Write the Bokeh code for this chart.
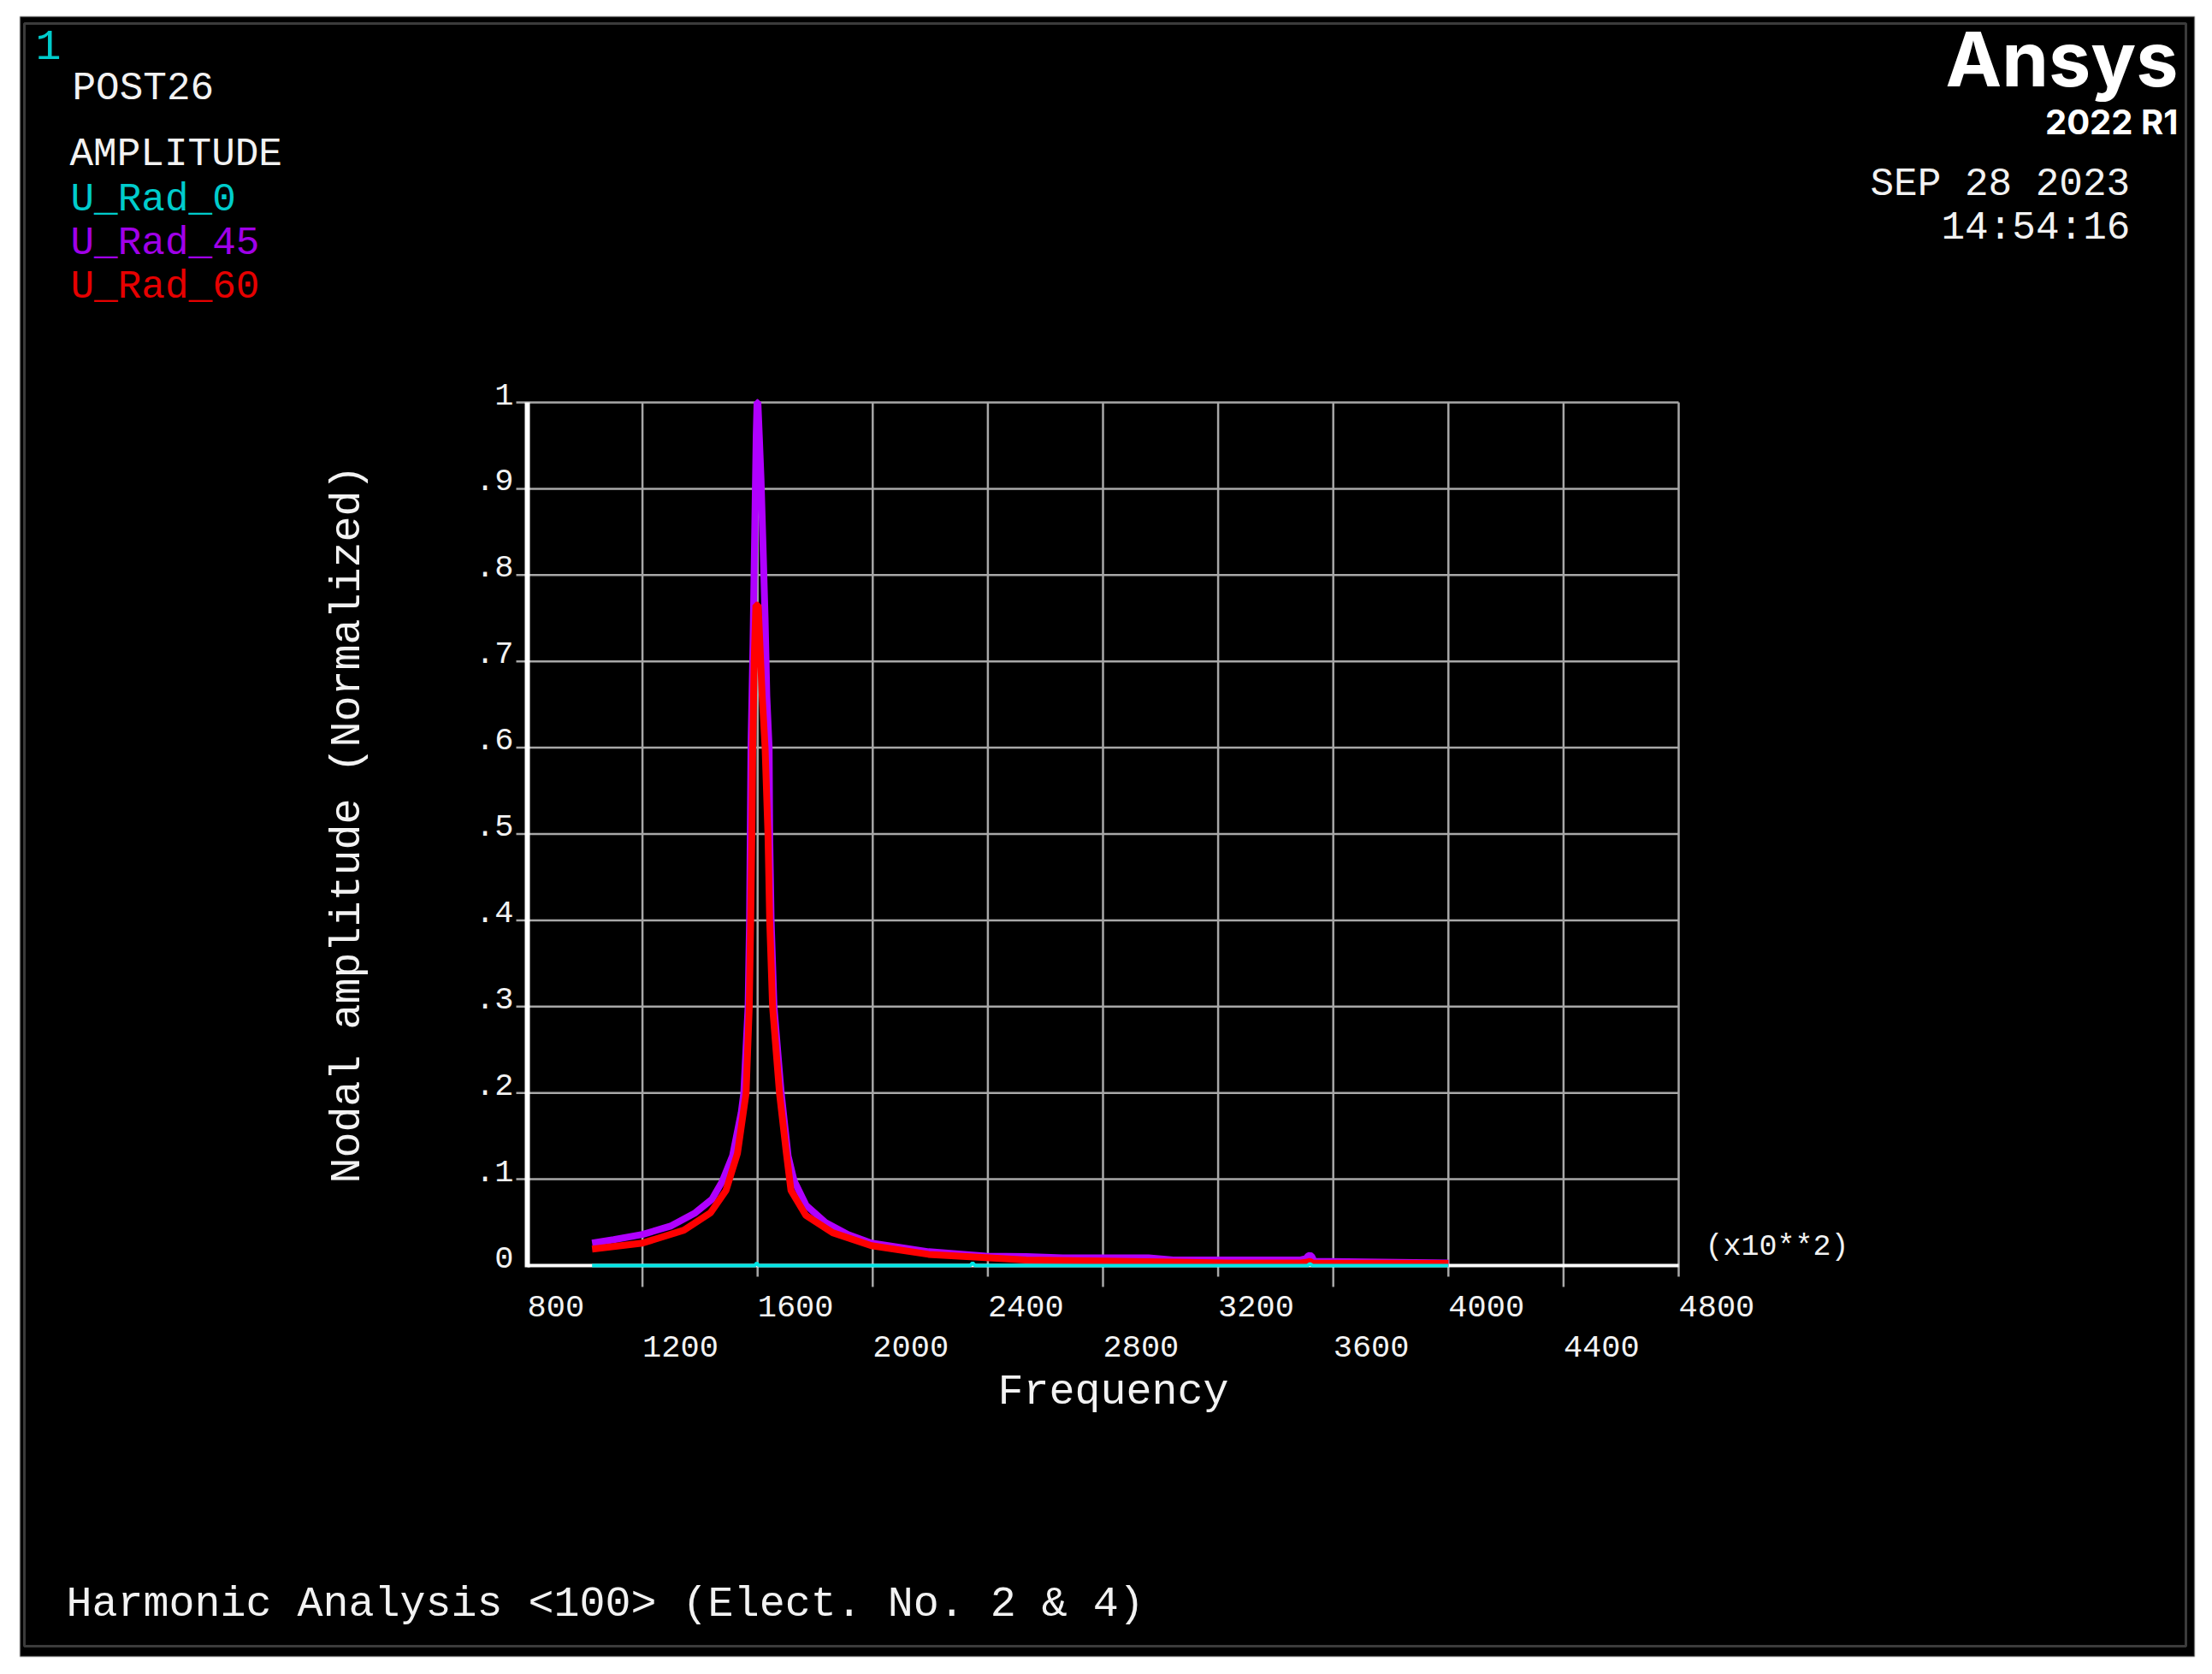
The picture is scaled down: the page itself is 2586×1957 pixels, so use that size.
import math
from bokeh.plotting import figure
from bokeh.models import Range1d, Label, BoxAnnotation
from bokeh.embed import file_html
from bokeh.resources import INLINE

# ------------------------------------------------------------------ data
x_ticks_row1 = [800, 1600, 2400, 3200, 4000, 4800]
x_ticks_row2 = [1200, 2000, 2800, 3600, 4400]
y_ticks = [0.0, 0.1, 0.2, 0.3, 0.4, 0.5, 0.6, 0.7, 0.8, 0.9, 1.0]
y_tick_labels = ["0", ".1", ".2", ".3", ".4", ".5", ".6", ".7", ".8", ".9", "1"]

series_names = ["U_Rad_0", "U_Rad_45", "U_Rad_60"]

freq_0 = [1025, 1590, 1597, 1604, 2338, 2347, 2356, 3510, 3519, 3528, 4000]
amp_0 = [0, 0, 0.003, 0, 0, 0.003, 0, 0, 0.002, 0, 0]

freq_45 = [1025, 1100, 1200, 1300, 1383, 1442, 1478, 1513, 1543, 1552, 1567, 1572,
           1577, 1584, 1590, 1595, 1598, 1601, 1606, 1612, 1620, 1626, 1632, 1640,
           1642, 1647, 1657, 1682, 1706, 1727, 1768, 1835, 1914, 1995, 2194, 2393,
           2533, 2660, 2958, 3044, 3487, 3505, 3512, 3519, 3526, 3533, 4000]
amp_45 = [0.026, 0.030, 0.036, 0.046, 0.061, 0.077, 0.098, 0.127, 0.177, 0.20, 0.30, 0.40,
          0.60, 0.72, 0.85, 0.96, 1.0, 1.0, 0.96, 0.91, 0.82, 0.75, 0.66, 0.60,
          0.50, 0.40, 0.30, 0.20, 0.127, 0.098, 0.070, 0.050, 0.036, 0.026, 0.016, 0.011,
          0.0105, 0.009, 0.009, 0.0065, 0.0065, 0.008, 0.011, 0.012, 0.010, 0.005, 0.003]

freq_60 = [1025, 1100, 1200, 1344, 1436, 1490, 1530, 1560, 1571, 1576, 1580, 1583,
           1588, 1594, 1602, 1608, 1616, 1626, 1636, 1642, 1652, 1676, 1700, 1716,
           1768, 1861, 1995, 2194, 2458, 2533, 2758, 2958, 3234, 3487, 3510, 3519,
           3528, 4000]
amp_60 = [0.019, 0.022, 0.026, 0.041, 0.061, 0.087, 0.13, 0.20, 0.30, 0.40, 0.50, 0.60,
          0.70, 0.765, 0.765, 0.72, 0.66, 0.60, 0.50, 0.40, 0.30, 0.20, 0.13, 0.087,
          0.058, 0.038, 0.023, 0.013, 0.008, 0.0065, 0.0055, 0.0045, 0.003, 0.003, 0.004, 0.005,
          0.003, 0.0025]

# ------------------------------------------------------------------ layout (page pixels)
W, H = 2570, 1941                    # canvas sits at the page origin
PLOT_L, PLOT_R = 616, 1962           # page x of first / last x tick
PLOT_T, PLOT_B = 470, 1479           # page y of y=1 / y=0

X0, X1 = x_ticks_row1[0], x_ticks_row1[-1]
Y0, Y1 = y_ticks[0], y_ticks[-1]
ux = (X1 - X0) / (PLOT_R - PLOT_L)
uy = (Y1 - Y0) / (PLOT_B - PLOT_T)

x_range = Range1d(X0 - PLOT_L * ux, X0 + (W - PLOT_L) * ux)
y_range = Range1d(Y0 - (H - PLOT_B) * uy, Y1 + PLOT_T * uy)

def sx(X):
    return X

def sy(Y):
    return H - Y

MONO = "Liberation Mono"
WHITE = "#f2f2f2"
GRID = "#a8a8a8"
line_colors = ["#00e5e5", "#b000ff", "#ff0000"]
text_colors = ["#00cccc", "#a000e8", "#e60000"]

p = figure(width=W, height=H, x_range=x_range, y_range=y_range,
           x_axis_type=None, y_axis_type=None,
           output_backend="svg", toolbar_location=None,
           background_fill_color="white", border_fill_color="white",
           outline_line_color=None, min_border=0)
p.xgrid.visible = False
p.ygrid.visible = False

# window panel (black) with frame lines
p.add_layout(BoxAnnotation(left=sx(23), right=sx(2565), top=sy(19), bottom=sy(1936),
                           left_units="screen", right_units="screen",
                           top_units="screen", bottom_units="screen", level="underlay",
                           fill_color="black", fill_alpha=1.0,
                           line_color="#5c5c5c", line_width=2))
p.add_layout(BoxAnnotation(left=sx(28), right=sx(2555), top=sy(27), bottom=sy(1924),
                           left_units="screen", right_units="screen",
                           top_units="screen", bottom_units="screen", level="underlay",
                           fill_color=None, line_color="#c4c4c4", line_width=3))

# grid lines (+ tick extensions outside the axes)
SHORT, LONG = 13 * uy, 25 * uy
vx = x_ticks_row1[1:] + x_ticks_row2
vy0 = [Y0 - SHORT] * len(x_ticks_row1[1:]) + [Y0 - LONG] * len(x_ticks_row2)
p.segment(x0=vx, y0=vy0, x1=vx, y1=[Y1] * len(vx), line_color=GRID, line_width=2.5)
hy = y_ticks[1:]
p.segment(x0=[X0 - 13 * ux] * len(hy), y0=hy, x1=[X1] * len(hy), y1=hy,
          line_color=GRID, line_width=2.5)

# axis lines
p.line([X0, X1], [Y0, Y0], line_color="white", line_width=4)
p.line([X0, X0], [Y0 - 2 * uy, Y1], line_color="white", line_width=6)

# curves
p.line(freq_45, amp_45, line_color=line_colors[1], line_width=8)
p.line(freq_60, amp_60, line_color=line_colors[2], line_width=8)
p.line(freq_0, amp_0, line_color=line_colors[0], line_width=4)

def label(text, X, Yc, size, color=WHITE, align="left", font=MONO, style="normal", angle=0):
    # Yc: page y of the visual (cap) centre of the text
    p.add_layout(Label(x=sx(X), y=sy(Yc), x_units="screen", y_units="screen", text=text,
                       text_font=font, text_font_size=f"{size}px", text_font_style=style,
                       text_color=color, text_align=align, text_baseline="middle",
                       angle=angle))

# tick labels
for t in x_ticks_row1:
    p.add_layout(Label(x=t, y=sy(1526), x_units="data", y_units="screen", text=str(t),
                       text_font=MONO, text_font_size="37px", text_color=WHITE,
                       text_align="left", text_baseline="middle"))
for t in x_ticks_row2:
    p.add_layout(Label(x=t, y=sy(1573), x_units="data", y_units="screen", text=str(t),
                       text_font=MONO, text_font_size="37px", text_color=WHITE,
                       text_align="left", text_baseline="middle"))
for t, s in zip(y_ticks, y_tick_labels):
    ypage = PLOT_B - (t - Y0) / uy - 10
    p.add_layout(Label(x=sx(600), y=sy(ypage), x_units="screen", y_units="screen", text=s,
                       text_font=MONO, text_font_size="37px", text_color=WHITE,
                       text_align="right", text_baseline="middle"))

# titles
label("Nodal amplitude (Normalized)", 406, 963, 50, align="center", angle=math.pi / 2)
label("Frequency", 1166, 1627, 50)
label("(x10**2)", 1993, 1457, 35)
label("Harmonic Analysis <100> (Elect. No. 2 & 4)", 77, 1875, 50)

# legend block
label("1", 41, 52, 50, color=text_colors[0])
label("POST26", 84, 103, 46)
label("AMPLITUDE", 81, 180, 46)
for i, (name, c) in enumerate(zip(series_names, text_colors)):
    label(name, 82, 233 + 51 * i, 46, color=c)

# top right
label("Ansys", 2546, 68, 88, align="right", font="Inter", style="bold", color="white")
label("2022 R1", 2546, 142, 40, align="right", font="Inter", style="bold", color="white")
label("SEP 28 2023", 2186, 215, 46)
label("14:54:16", 2269, 266, 46)

open("out.html", "w").write(file_html(p, INLINE))
